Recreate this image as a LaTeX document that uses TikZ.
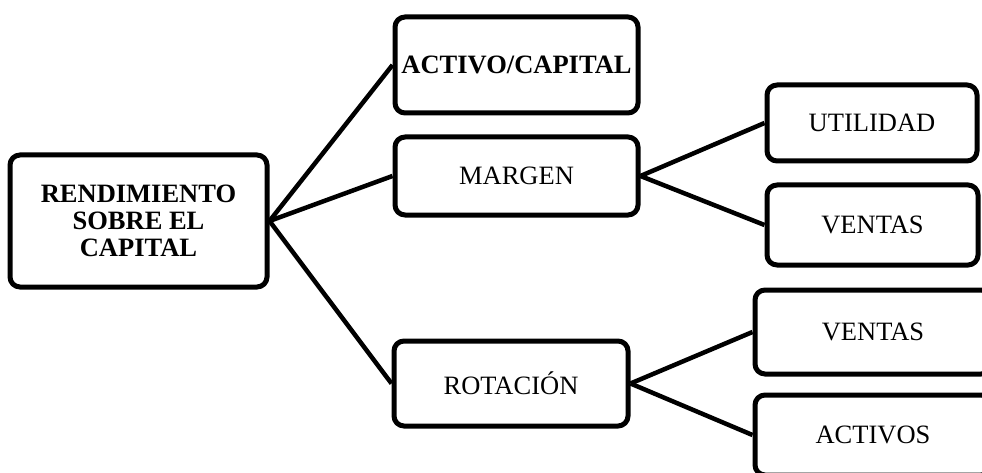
\documentclass[tikz,border=0pt]{standalone}
\usepackage{fontspec}
\setmainfont{Liberation Serif}
\begin{document}
\begin{tikzpicture}[x=1pt,y=-1pt,
  box/.style={draw=black, line width=5pt, rounded corners=10pt, inner sep=0pt,
    align=center, font=\fontsize{26.5}{27}\selectfont},
  boldbox/.style={box, font=\fontsize{26.5}{26.7}\selectfont\bfseries},
  link/.style={draw=black, line width=4.5pt}]
\useasboundingbox (0,0) rectangle (982,473);
\clip (0,0) rectangle (982,473);
\node[boldbox, minimum width=257pt, minimum height=132pt] (main) at (138.5,221) {RENDIMIENTO\\SOBRE EL\\CAPITAL};
\node[boldbox, minimum width=243pt, minimum height=96pt] (ac) at (516.5,65) {ACTIVO/CAPITAL};
\node[box, minimum width=243pt, minimum height=78pt] (margen) at (516.5,176) {MARGEN};
\node[box, minimum width=234pt, minimum height=85pt] (rot) at (511,383.5) {ROTACIÓN};
\node[box, minimum width=210pt, minimum height=76pt] (util) at (872,123) {UTILIDAD};
\node[box, minimum width=211pt, minimum height=80pt] (ven1) at (872.5,225) {VENTAS};
\node[box, minimum width=236pt, minimum height=84pt] (ven2) at (873,332) {VENTAS};
\node[box, minimum width=236pt, minimum height=80pt] (act) at (873,435) {ACTIVOS};
\draw[link] (main.east) -- (ac.west);
\draw[link] (main.east) -- (margen.west);
\draw[link] (main.east) -- (rot.west);
\draw[link] (margen.east) -- (util.west);
\draw[link] (margen.east) -- (ven1.west);
\draw[link] (rot.east) -- (ven2.west);
\draw[link] (rot.east) -- (act.west);
\end{tikzpicture}
\end{document}
